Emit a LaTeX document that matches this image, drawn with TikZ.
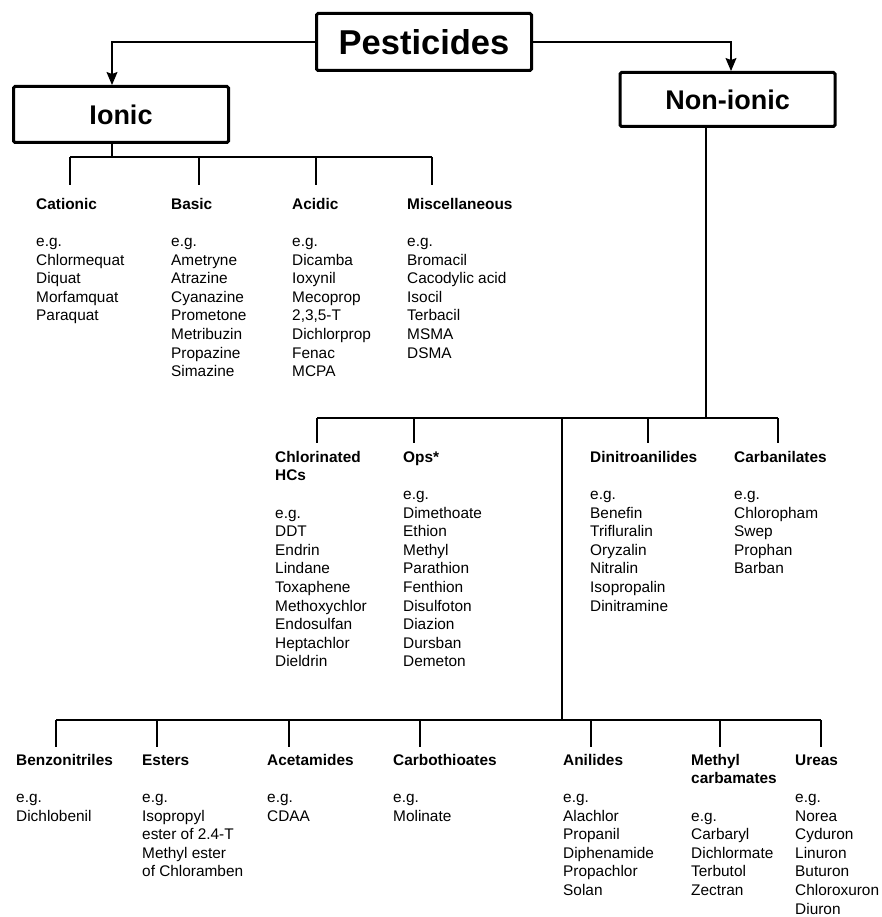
\documentclass[tikz,border=0pt]{standalone}
\usepackage{fontspec}
\setmainfont{Liberation Sans}
\usetikzlibrary{arrows.meta}

\tikzset{
  kasten/.style={draw, line width=3pt, rounded corners=1.5pt, minimum width=215pt, inner sep=0pt,
    font=\bfseries\fontsize{27}{32}\selectfont},
  ast/.style={line width=1.1pt},
  pfeil/.style={ast, -{Stealth[width=11pt,length=13pt,inset=2pt]}},
  liste/.style={anchor=north west, align=left, inner sep=0pt, yshift=13pt,
    font=\fontsize{15.4}{18.6}\selectfont},
}
\newcommand{\titel}[1]{\strut\textbf{#1}}

\begin{document}
\begin{tikzpicture}[x=1pt,y=-1pt]
    \useasboundingbox (0,0) rectangle (881,917);
    % Kaesten
    \node[kasten, minimum height=57pt, font=\bfseries\fontsize{34.5}{40}\selectfont] (pest) at (424,42) {Pesticides};
    \node[kasten, minimum height=56pt] (ionic) at (121,114.5) {Ionic};
    \node[kasten, minimum height=54pt] (nonionic) at (727.5,99.5) {Non-ionic};

    \draw[pfeil] (pest.west) -| ([xshift=-9pt]ionic.north);
    \draw[pfeil] (pest.east) -| ([xshift=3.5pt]nonionic.north);

    % Ionic
    \coordinate (ionicknoten) at (112,157);
    \draw[ast] (ionic.south -| ionicknoten) -- (ionicknoten);
    \foreach \x/\n in {70/cat,199/bas,316/aci,432/mis}{
      \coordinate (\n-a) at (\x,157);
      \coordinate (\n-b) at (\x,185);
      \draw[ast] (\n-a) -- (\n-b);
    }
    \draw[ast] (cat-a) -- (mis-a);

    \node[liste] (cationic) at (36,209) {\titel{Cationic}\\ \\e.g.\\Chlormequat\\Diquat\\Morfamquat\\Paraquat};
    \node[liste] (basic) at (171,209) {\titel{Basic}\\ \\e.g.\\Ametryne\\Atrazine\\Cyanazine\\Prometone\\Metribuzin\\Propazine\\Simazine};
    \node[liste] (acidic) at (292,209) {\titel{Acidic}\\ \\e.g.\\Dicamba\\Ioxynil\\Mecoprop\\2,3,5-T\\Dichlorprop\\Fenac\\MCPA};
    \node[liste] (misc) at (407,209) {\titel{Miscellaneous}\\ \\e.g.\\Bromacil\\Cacodylic acid\\Isocil\\Terbacil\\MSMA\\DSMA};

    % Non-ionic
    \coordinate (nonionicknoten) at (706,418);
    \draw[ast] (nonionic.south -| nonionicknoten) -- (nonionicknoten);
    \foreach \x/\n in {317/chl,414/ops,648/din,778/crb}{
      \coordinate (\n-a) at (\x,418);
      \coordinate (\n-b) at (\x,443);
      \draw[ast] (\n-a) -- (\n-b);
    }
    \draw[ast] (chl-a) -- (crb-a);

    \node[liste] (chlorinated) at (275,462) {\titel{Chlorinated}\\\textbf{HCs}\\ \\e.g.\\DDT\\Endrin\\Lindane\\Toxaphene\\Methoxychlor\\Endosulfan\\Heptachlor\\Dieldrin};
    \node[liste] (ops) at (403,462) {\titel{Ops*}\\ \\e.g.\\Dimethoate\\Ethion\\Methyl\\Parathion\\Fenthion\\Disulfoton\\Diazion\\Dursban\\Demeton};
    \node[liste] (dinitro) at (590,462) {\titel{Dinitroanilides}\\ \\e.g.\\Benefin\\Trifluralin\\Oryzalin\\Nitralin\\Isopropalin\\Dinitramine};
    \node[liste] (carbanil) at (734,462) {\titel{Carbanilates}\\ \\e.g.\\Chloropham\\Swep\\Prophan\\Barban};

    % untere Reihe
    \coordinate (oben) at (562,418);
    \coordinate (unten) at (562,720);
    \draw[ast] (oben) -- (unten);
    \foreach \x/\n in {56/ben,157/est,289/ace,420/cth,591/ani,720/mca,821/ure}{
      \coordinate (\n-a) at (\x,720);
      \coordinate (\n-b) at (\x,747);
      \draw[ast] (\n-a) -- (\n-b);
    }
    \draw[ast] (ben-a) -- (ure-a);

    \node[liste] (benzo) at (16,765) {\titel{Benzonitriles}\\ \\e.g.\\Dichlobenil};
    \node[liste] (esters) at (142,765) {\titel{Esters}\\ \\e.g.\\Isopropyl\\ester of 2.4-T\\Methyl ester\\of Chloramben};
    \node[liste] (acetam) at (267,765) {\titel{Acetamides}\\ \\e.g.\\CDAA};
    \node[liste] (carbothio) at (393,765) {\titel{Carbothioates}\\ \\e.g.\\Molinate};
    \node[liste] (anilides) at (563,765) {\titel{Anilides}\\ \\e.g.\\Alachlor\\Propanil\\Diphenamide\\Propachlor\\Solan};
    \node[liste] (methylcarb) at (691,765) {\titel{Methyl}\\\textbf{carbamates}\\ \\e.g.\\Carbaryl\\Dichlormate\\Terbutol\\Zectran};
    \node[liste] (ureas) at (795,765) {\titel{Ureas}\\ \\e.g.\\Norea\\Cyduron\\Linuron\\Buturon\\Chloroxuron\\Diuron};
\end{tikzpicture}
\end{document}
